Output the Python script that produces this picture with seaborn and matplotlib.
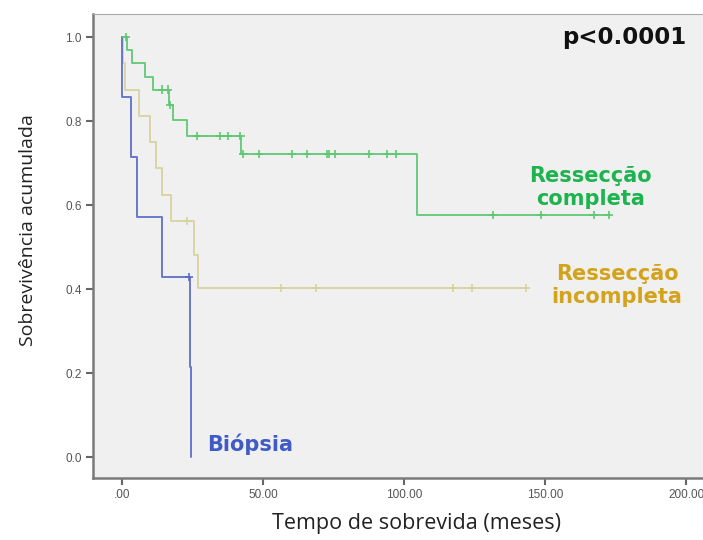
import numpy as np
import pandas as pd
import seaborn as sns
import matplotlib.pyplot as plt

# Kaplan-Meier steps (time in months, survival after the drop)
GROUPS = ["Ressecção completa", "Ressecção incompleta", "Biópsia"]

comp_times = [1.6, 3.5, 8.2, 11.0, 16.7, 18.1, 23.0, 42.2, 104.7]
comp_surv = [0.969, 0.938, 0.906, 0.875, 0.838, 0.802, 0.764, 0.721, 0.576]
comp_cens = [1.5, 14.2, 16.3, 16.9, 26.6, 34.8, 37.6, 42.0, 42.8, 48.6, 60.2, 65.5,
             72.6, 73.4, 75.5, 87.6, 93.9, 97.0, 131.5, 148.5, 167.2, 172.5]

inc_times = [0.5, 1.1, 6.0, 9.9, 12.0, 14.3, 17.4, 25.6, 26.8]
inc_surv = [0.9375, 0.875, 0.8125, 0.75, 0.6875, 0.625, 0.5625, 0.482, 0.402]
inc_cens = [23.2, 56.3, 68.7, 117.4, 124.0, 143.3]

bio_times = [0.1, 3.1, 5.2, 14.1, 24.1, 24.3]
bio_surv = [0.857, 0.714, 0.571, 0.429, 0.214, 0.0]
bio_cens = [23.8]

line_colors = ["#5cc870", "#d8d29c", "#5a6cc6"]
text_colors = ["#1db34e", "#d4a31c", "#3f5bc8"]

curves = {
    GROUPS[0]: (comp_times, comp_surv, comp_cens),
    GROUPS[1]: (inc_times, inc_surv, inc_cens),
    GROUPS[2]: (bio_times, bio_surv, bio_cens),
}

rows, marks = [], []
for g, (t, s, c) in curves.items():
    tt = [0.0] + list(t)
    ss = [1.0] + list(s)
    if max(c) > tt[-1]:
        tt.append(max(c))
        ss.append(ss[-1])
    rows += [{"group": g, "time": a, "surv": b} for a, b in zip(tt, ss)]
    for ct in c:
        idx = np.searchsorted(tt, ct, side="right") - 1
        marks.append({"group": g, "time": ct, "surv": ss[idx]})

df = pd.DataFrame(rows)
cens_df = pd.DataFrame(marks)

sns.set_style("white")
plt.rcParams["font.family"] = ["DejaVu Sans"]
fig = plt.figure(figsize=(7.03, 5.40), dpi=100)
ax = fig.add_axes([0.1323, 0.1148, 0.8677, 0.8593])
ax.set_facecolor("#f0f0f0")

pal = dict(zip(GROUPS, line_colors))
sns.lineplot(data=df, x="time", y="surv", hue="group", palette=pal, estimator=None,
             sort=False, drawstyle="steps-post", lw=1.4, alpha=0.9, legend=False, ax=ax)
sns.scatterplot(data=cens_df, x="time", y="surv", hue="group", palette=pal, marker="+",
                s=35, linewidth=1.2, legend=False, ax=ax, zorder=3)

ax.set_xlim(-10.3, 206)
ax.set_ylim(-0.05, 1.055)
ax.set_xticks([0, 50, 100, 150, 200])
ax.set_xticklabels([".00", "50.00", "100.00", "150.00", "200.00"])
ax.set_yticks([0, 0.2, 0.4, 0.6, 0.8, 1.0])
ax.set_yticklabels(["0.0", "0.2", "0.4", "0.6", "0.8", "1.0"])
ax.tick_params(axis="both", direction="out", length=5, width=1.5, color="#666",
               labelsize=8.5, labelcolor="#555", pad=3, bottom=True, left=True)
for lab in ax.get_xticklabels() + ax.get_yticklabels():
    lab.set_family("Liberation Sans")

for side in ["left", "bottom"]:
    ax.spines[side].set_color("#7a7a7a")
    ax.spines[side].set_linewidth(1.8)
ax.spines["top"].set_color("#aaaaaa")
ax.spines["top"].set_linewidth(0.8)
ax.spines["right"].set_visible(False)

ax.set_xlabel("Tempo de sobrevida (meses)", fontsize=15.5, color="#222", family="Open Sans")
ax.xaxis.set_label_coords(0.531, -0.075)
ax.set_ylabel("Sobrevivência acumulada", fontsize=14, color="#222", family="Open Sans")
ax.yaxis.set_label_coords(-0.092, 0.534)

ax.text(166, 0.642, "Ressecção\ncompleta", color=text_colors[0], fontsize=15,
        fontweight="bold", ha="center", va="center", linespacing=1.15)
ax.text(175.5, 0.408, "Ressecção\nincompleta", color=text_colors[1], fontsize=15,
        fontweight="bold", ha="center", va="center", linespacing=1.15)
ax.text(30, 0.031, "Biópsia", color=text_colors[2], fontsize=15,
        fontweight="bold", ha="left", va="center")
ax.text(178, 1.0, "p<0.0001", color="#111", fontsize=16.5, fontweight="bold",
        ha="center", va="center")

fig.savefig("out.png", dpi=100)
